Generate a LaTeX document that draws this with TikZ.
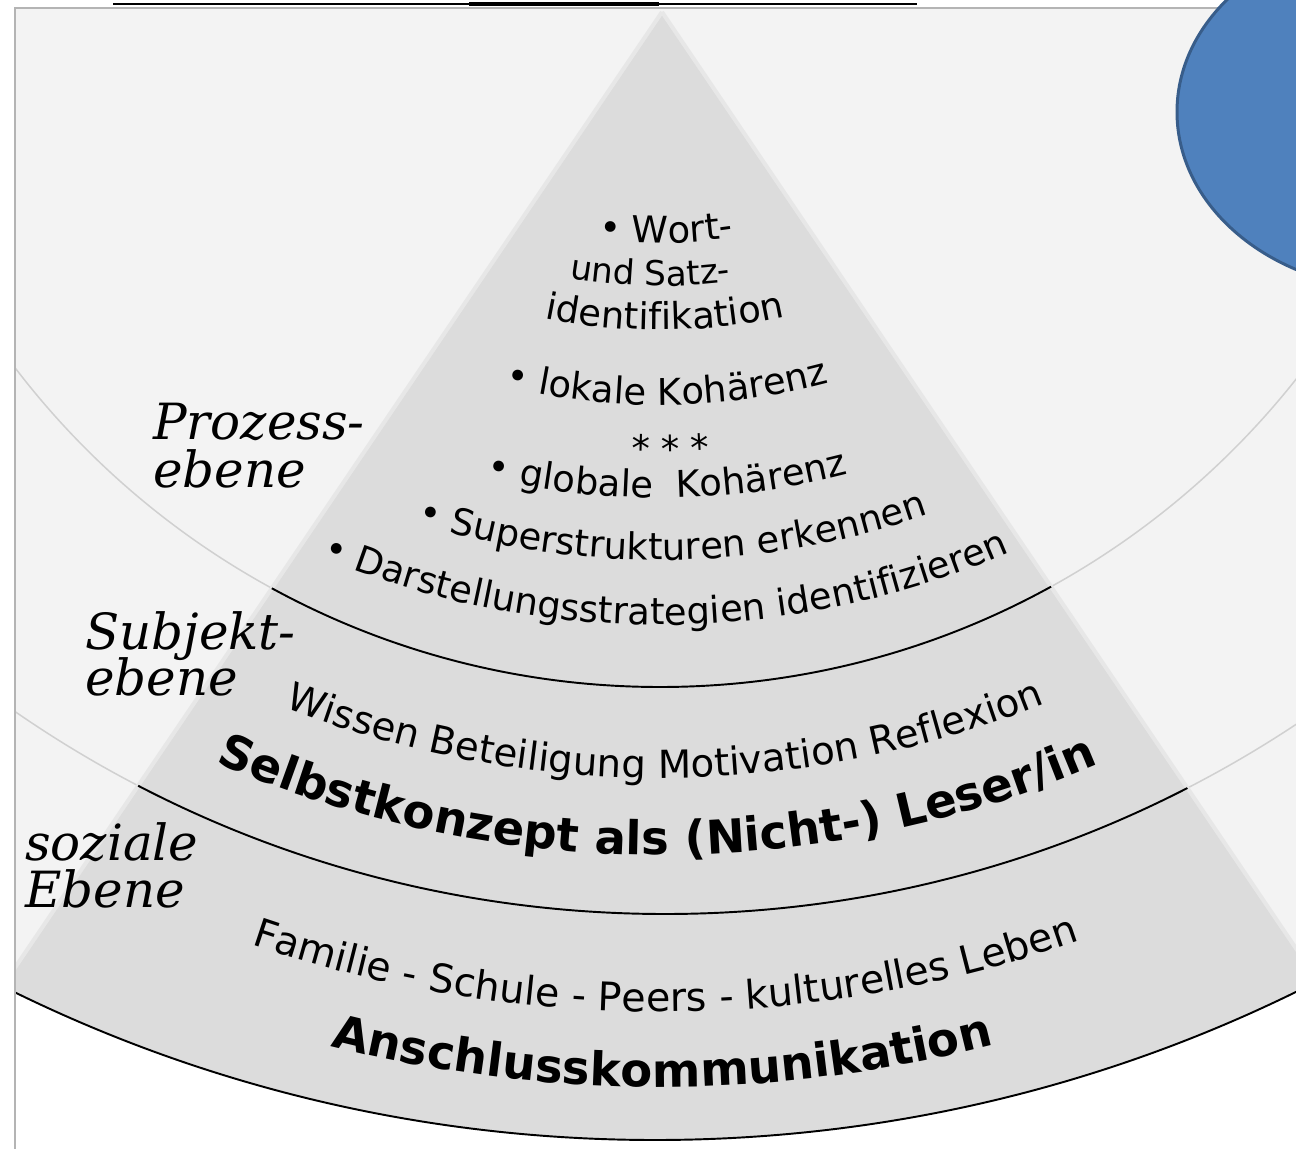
\documentclass[tikz,border=0pt]{standalone}
\usepackage{fontspec}
\setmainfont{DejaVu Sans}
\newfontfamily\pyrfont{DejaVu Sans}
\newfontfamily\labfont{DejaVu Serif}
\usetikzlibrary{decorations.text}
\definecolor{bgc}{HTML}{F3F3F3}
\definecolor{pyrc}{HTML}{DCDCDC}
\definecolor{edgec}{HTML}{E7E7E7}
\definecolor{arcc}{HTML}{D0D0D0}
\definecolor{framec}{HTML}{B4B4B4}
\definecolor{ellfill}{HTML}{4F81BD}
\definecolor{elldraw}{HTML}{385D8A}
\tikzset{
  lightarc/.style={draw=arcc, line width=0.85pt},
  blackarc/.style={draw=black, line width=1.1pt},
  pyredge/.style={draw=edgec, line width=2.3pt},
  framestyle/.style={draw=framec, line width=1.4pt},
  lab/.style={font=\labfont\itshape\fontsize{28.4}{28.4}\selectfont, inner sep=0pt, anchor=base west},
}
\newcommand\ArcText[4]{%
  \path[decorate, decoration={text along path, text align=center, text={|#3|#4}}]
    (ctr) ++({270-45+deg((#2)/(#1))}:#1) arc[start angle={270-45+deg((#2)/(#1))}, delta angle=90, radius=#1];
}
\newcommand\regf{\pyrfont\fontsize{21}{21}\selectfont}
\newcommand\bldf{\pyrfont\bfseries\fontsize{26.5}{26.5}\selectfont}
\begin{document}
\begin{tikzpicture}[x=0.02cm, y=0.02cm]
\useasboundingbox (0,0) rectangle (1296,-1149);
\fill[white] (0,0) rectangle (1296,-1149);
\coordinate (apex) at (662,-12);
\coordinate (cA) at (660,124);
\coordinate (cB) at (665,230);
\coordinate (cC) at (655,318);
\coordinate (ctr) at (660,250);
\coordinate (tl) at (-210,-1300);
\coordinate (tr) at (1534,-1300);
% background disc
\begin{scope}
  \clip (15,-8) rectangle (1296,-1149);
  \fill[bgc] (cC) circle[radius=1458];
  \draw[lightarc] (cA) circle[radius=811];
  \draw[lightarc] (cB) circle[radius=1144];
\end{scope}
% pyramid
\begin{scope}
  \clip (15,-8) rectangle (1296,-1149);
  \clip (cC) circle[radius=1458];
  \fill[pyrc] (apex) -- (tl) -- (tr) -- cycle;
  \draw[pyredge] (apex) -- (tl);
  \draw[pyredge] (apex) -- (tr);
  \clip (apex) -- (tl) -- (tr) -- cycle;
  \draw[blackarc] (cA) circle[radius=811];
  \draw[blackarc] (cB) circle[radius=1144];
\end{scope}
\begin{scope}
  \clip (15,-8) rectangle (1296,-1149);
  \draw[blackarc] (cC) circle[radius=1458];
\end{scope}
% frame
\draw[framestyle] (15,-1149) -- (15,-8) -- (1296,-8);
\draw[black, line width=0.9pt] (113,-4) -- (917,-4);
\draw[black, line width=1.8pt] (469,-4) -- (659,-4);
% ellipse
\draw[fill=ellfill, draw=elldraw, line width=1.7pt] (1400,-112) ellipse[x radius=223, y radius=178];
% labels
\node[lab] (proz1) at (153,-439) {Prozess-};
\node[lab] (proz2) at (153,-487) {ebene};
\node[lab] (subj1) at (85,-649) {Subjekt-};
\node[lab] (subj2) at (85,-695) {ebene};
\node[lab] (soz1) at (25,-860) {soziale};
\node[lab] (soz2) at (25,-907) {Ebene};
% curved texts
\ArcText{493}{6}{\regf}{• Wort-}
\ArcText{536}{-10}{\pyrfont\fontsize{19.5}{19.5}\selectfont}{und Satz-}
\ArcText{580}{5}{\regf}{identifikation}
\ArcText{655}{7}{\regf}{• lokale Kohärenz}
\ArcText{712}{11}{\regf}{* * *}
\ArcText{748}{7}{\regf}{• globale {\ }Kohärenz}
\ArcText{810}{13}{\regf}{• Superstrukturen erkennen}
\ArcText{875}{6}{\regf}{• Darstellungsstrategien identifizieren}
\ArcText{1028}{5}{\pyrfont\fontsize{22}{22}\selectfont}{Wissen Beteiligung Motivation Reflexion}
\ArcText{1105}{-3}{\bldf}{Selbstkonzept als (Nicht-) Leser/in}
\ArcText{1262}{5}{\pyrfont\fontsize{22.5}{22.5}\selectfont}{Familie - Schule - Peers - kulturelles Leben}
\ArcText{1337}{2}{\bldf}{Anschlusskommunikation}
\end{tikzpicture}
\end{document}
